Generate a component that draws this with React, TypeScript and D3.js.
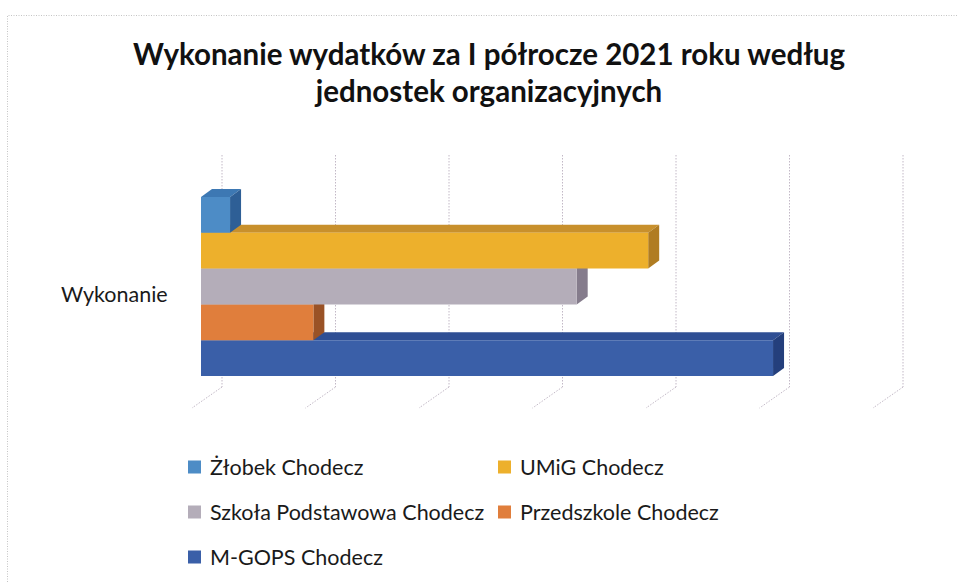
import * as d3 from "d3";

// data (no value axis labels visible, units assumed)
const category = "Wykonanie";
const seriesNames = [
  "Żłobek Chodecz",
  "UMiG Chodecz",
  "Szkoła Podstawowa Chodecz",
  "Przedszkole Chodecz",
  "M-GOPS Chodecz",
];
const seriesValues = [256000, 3940000, 3310000, 990000, 5040000];
const valueTicks = [0, 1000000, 2000000, 3000000, 4000000, 5000000, 6000000];

const frontColors = ["#4d8cc6", "#edb02c", "#b4adb9", "#e07e3c", "#3a5fa8"];
const topColors = ["#3d78b3", "#c8902c", "#9c93a2", "#b8642e", "#2f4f94"];
const sideColors = ["#2e5f96", "#b07c22", "#857c8c", "#9a5226", "#243f7c"];

const W = 957;
const H = 582;

// 3d geometry of the Excel-style plot
const front = { x0: 201, top: 197, bottom: 376 };
const barDepth = { dx: 11, dy: -8 };
const wall = { x0: 222, top: 155, bottom: 387 };
const floorDepth = { dx: -30, dy: 21 };

export default function App() {
  const x = d3.scaleLinear().domain([0, 6000000]).range([0, 681]);
  const y = d3
    .scaleBand<string>()
    .domain(seriesNames)
    .range([front.top, front.bottom])
    .padding(0);

  const bars = seriesNames.map((name, i) => {
    const x0 = front.x0;
    const x1 = front.x0 + x(seriesValues[i]);
    const y0 = y(name) as number;
    const y1 = y0 + y.bandwidth();
    const { dx, dy } = barDepth;
    const pt = (p: number[][]) => p.map((q) => q.join(",")).join(" ");
    return {
      name,
      i,
      frontPts: pt([[x0, y0], [x1, y0], [x1, y1], [x0, y1]]),
      topPts: pt([[x0, y0], [x1, y0], [x1 + dx, y0 + dy], [x0 + dx, y0 + dy]]),
      sidePts: pt([[x1, y0], [x1 + dx, y0 + dy], [x1 + dx, y1 + dy], [x1, y1]]),
    };
  });

  const legendPos = [
    [188, 467],
    [498, 467],
    [188, 512],
    [498, 512],
    [188, 557],
  ];

  return (
    <svg
      width={W}
      height={H}
      style={{ position: "absolute", left: 0, top: 0, background: "#fff" }}
      fontFamily="Lato, 'Open Sans', sans-serif"
    >
      <rect x={0} y={0} width={W} height={H} fill="#fff" />
      {/* chart area border */}
      <path
        d={`M7.5,${H} V15.5 H${W}`}
        fill="none"
        stroke="#c4c4c4"
        strokeDasharray="1 1.5"
      />

      <text
        x={489}
        y={65}
        textAnchor="middle"
        fontSize={29.5}
        fontWeight="bold"
        fill="#111"
      >
        Wykonanie wydatków za I półrocze 2021 roku według
      </text>
      <text
        x={489}
        y={102}
        textAnchor="middle"
        fontSize={29.5}
        fontWeight="bold"
        fill="#111"
      >
        jednostek organizacyjnych
      </text>

      {/* back wall and floor gridlines */}
      <g stroke="#c2b8c6" strokeWidth={1} strokeDasharray="1.5 1.5" fill="none">
        {valueTicks.map((t) => {
          const gx = wall.x0 + x(t);
          return (
            <g key={t}>
              <line x1={gx} x2={gx} y1={wall.top} y2={wall.bottom} />
              <line
                x1={gx}
                y1={wall.bottom}
                x2={gx + floorDepth.dx}
                y2={wall.bottom + floorDepth.dy}
              />
            </g>
          );
        })}
      </g>

      {/* bars, drawn bottom up so upper bars overlap lower top faces */}
      <g>
        {bars
          .slice()
          .reverse()
          .map((b) => (
            <g key={b.name}>
              <polygon points={b.topPts} fill={topColors[b.i]} />
              <polygon points={b.sidePts} fill={sideColors[b.i]} />
              <polygon points={b.frontPts} fill={frontColors[b.i]} />
            </g>
          ))}
      </g>

      <text x={61} y={302} fontSize={21.5} fill="#1a1a1a">
        {category}
      </text>

      {/* legend */}
      <g>
        {seriesNames.map((name, i) => (
          <g key={name} transform={`translate(${legendPos[i][0]},${legendPos[i][1]})`}>
            <rect x={0} y={-6.5} width={13} height={13} fill={frontColors[i]} />
            <text x={22} y={7.5} fontSize={21.5} fill="#1a1a1a">
              {name}
            </text>
          </g>
        ))}
      </g>
    </svg>
  );
}
